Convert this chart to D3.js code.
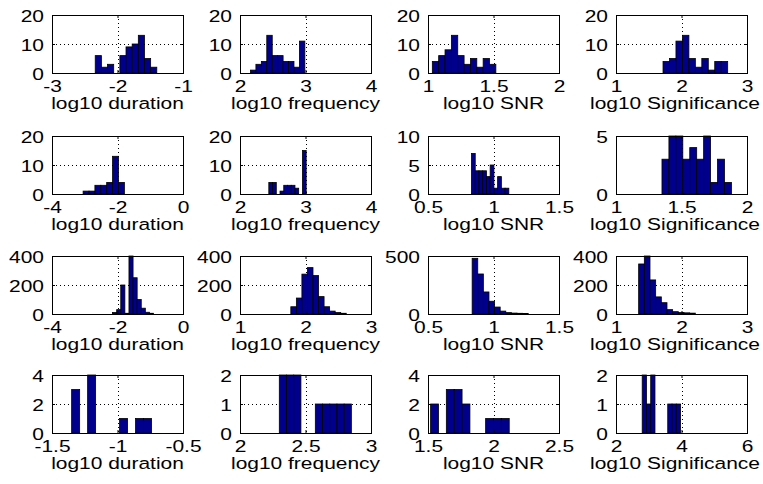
<!DOCTYPE html>
<html><head><meta charset="utf-8">
<script src="https://cdn.jsdelivr.net/npm/d3@7"></script>
<style>body{margin:0;background:#fff}svg{display:block}text{font-family:"Liberation Sans",Arial,sans-serif;}</style>
</head><body><svg id="c" width="763" height="484"></svg>
<script>
const xLabels = ["log10 duration","log10 frequency","log10 SNR","log10 Significance"];
const xDomains = [[-3,-1],[2,4],[1,2],[1,3],[-4,0],[2,4],[0.5,1.5],[1,2],[-4,0],[1,3],[0.5,1.5],[1,3],[-1.5,-0.5],[2,3],[1.5,2.5],[2,6]];
const xTicks = [[-3,-2,-1],[2,3,4],[1,1.5,2],[1,2,3],[-4,-2,0],[2,3,4],[0.5,1,1.5],[1,1.5,2],[-4,-2,0],[1,2,3],[0.5,1,1.5],[1,2,3],[-1.5,-1,-0.5],[2,2.5,3],[1.5,2,2.5],[2,4,6]];
const yTicks = [[0,10,20],[0,10,20],[0,10,20],[0,10,20],[0,10,20],[0,10,20],[0,5,10],[0,5],[0,200,400],[0,200,400],[0,500],[0,200,400],[0,2,4],[0,1,2],[0,2,4],[0,1,2]];
const binStarts = [-2.34,2.16,1.033,1.718,-3.05,2.44,0.832,1.351,-2.15,1.776,0.837,1.346,-1.35,2.3,1.52,2.8];
const binWidths = [0.094,0.083,0.0485,0.0987,0.18,0.057,0.0285,0.053,0.125,0.0846,0.0428,0.0865,0.061,0.055,0.06,0.13];
const counts = [
  [6,2,3,0,6,9,10,13,5,2],
  [1,3,4,13,6,6,4,4,2,11],
  [4,6,8,13,6,3,5,2,5,3],
  [4,5,11,13,5,2,5,1,4,4],
  [1,1,3,3,4,13,4],
  [4,4,0,1,3,3,3,2,0,15],
  [7,4,4,4,3,5,1,3,1,1],
  [3,5,5,3,4,3,5,1,3,1],
  [10,30,200,5,400,250,100,40,12,5],
  [50,110,275,320,265,120,50,20,10,5],
  [480,345,190,110,60,25,12,8,6,5],
  [345,400,235,118,78,30,16,10,8,6],
  [3,0,4,0,0,0,1,0,1,1],
  [2,2,2,0,0,1,1,1,1,1],
  [2,0,3,3,2,0,0,1,1,1],
  [2,1,2,0,0,0,1,1,1]
];

const colLeft = [52,240,428,616];
const rowTop = [15,136,256,375];
const PW = 131, PH = 58;
const SX = 1.27, FS = 16.5;
const barFill = "#00008c";
const W = 763;

const svg = d3.select("#c");

function styleText(sel){
  sel.attr("font-size", FS).attr("fill","#000").attr("font-family",'"Liberation Sans",Arial,sans-serif');
}

counts.forEach((cnt, i) => {
  const r = Math.floor(i/4), c = i%4;
  const L = colLeft[c], T = rowTop[r];
  const xd = xDomains[i], yt = yTicks[i];
  const x = d3.scaleLinear().domain(xd).range([L, L+PW]);
  const y = d3.scaleLinear().domain([yt[0], yt[yt.length-1]]).range([T+PH, T]);
  const g = svg.append("g");

  const xt = xTicks[i];
  g.selectAll(".gx").data(xt.slice(1,-1)).enter().append("line")
    .attr("x1", d=>Math.round(x(d))+0.5).attr("x2", d=>Math.round(x(d))+0.5)
    .attr("y1", T).attr("y2", T+PH)
    .attr("stroke","#000").attr("stroke-width",1).attr("stroke-dasharray","1,3");
  g.selectAll(".gy").data(yt.slice(1,-1)).enter().append("line")
    .attr("y1", d=>Math.round(y(d))+0.5).attr("y2", d=>Math.round(y(d))+0.5)
    .attr("x1", L).attr("x2", L+PW)
    .attr("stroke","#000").attr("stroke-width",1).attr("stroke-dasharray","1,3");

  const bins = cnt.map((v,k)=>({x0: binStarts[i]+k*binWidths[i], x1: binStarts[i]+(k+1)*binWidths[i], v}));
  g.selectAll(".bar").data(bins.filter(b=>b.v>0)).enter().append("rect")
    .attr("x", d=>x(d.x0)).attr("width", d=>x(d.x1)-x(d.x0))
    .attr("y", d=>y(d.v)).attr("height", d=>y(0)-y(d.v))
    .attr("fill", barFill).attr("stroke","#000").attr("stroke-width",0.8);

  const fmt = d => String(d);
  const ab = g.append("g").attr("transform",`translate(0,${T+PH})`)
    .call(d3.axisBottom(x).tickValues(xt).tickSizeInner(-3).tickSizeOuter(0).tickFormat(fmt));
  const al = g.append("g").attr("transform",`translate(${L},0)`)
    .call(d3.axisLeft(y).tickValues(yt).tickSizeInner(-3).tickSizeOuter(0).tickFormat(fmt));
  const at = g.append("g").attr("transform",`translate(0,${T})`)
    .call(d3.axisTop(x).tickValues(xt).tickSizeInner(-3).tickSizeOuter(0).tickFormat(""));
  const ar = g.append("g").attr("transform",`translate(${L+PW},0)`)
    .call(d3.axisRight(y).tickValues(yt).tickSizeInner(-3).tickSizeOuter(0).tickFormat(""));
  [ab,al,at,ar].forEach(a=>{ a.select(".domain").remove(); a.selectAll("line").attr("stroke","#000"); });

  ab.selectAll("text").call(styleText).attr("y", null).attr("dy", null)
    .attr("transform", `translate(0,19) scale(${SX},1)`);
  al.selectAll("text").call(styleText).attr("x", null).attr("dy", null)
    .attr("text-anchor","end")
    .attr("transform", `translate(-8,6) scale(${SX},1)`);

  g.append("rect").attr("x", L+0.5).attr("y", T+0.5).attr("width", PW).attr("height", PH)
    .attr("fill","none").attr("stroke","#000").attr("stroke-width",1);

  const lab = g.append("text").text(xLabels[c]).call(styleText)
    .attr("text-anchor","middle");
  const tw = lab.node().getComputedTextLength() * SX;
  let cx = L + PW/2;
  if (cx + tw/2 > W - 3) cx = W - 3 - tw/2;
  lab.attr("transform", `translate(${cx},${T+PH+36}) scale(${SX},1)`);
});
</script></body></html>
